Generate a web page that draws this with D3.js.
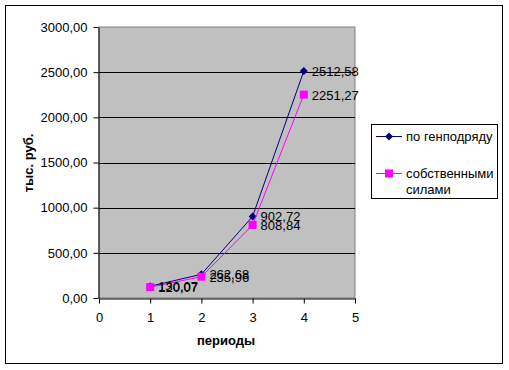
<!DOCTYPE html>
<html>
<head>
<meta charset="utf-8">
<script src="https://cdn.jsdelivr.net/npm/d3@7"></script>
<style>
  body { margin: 0; background: #fff; }
  svg text { font-family: "Liberation Sans", Arial, sans-serif; }
</style>
</head>
<body>
<div id="chart"></div>
<script>
// данные
const periods = [1, 2, 3, 4];
const genpodryad = [130.07, 262.68, 902.72, 2512.58];
const sobstv = [120.07, 235.96, 808.84, 2251.27];
const seriesNames = ["по генподряду", "собственными силами"];
const yTicks = [0, 500, 1000, 1500, 2000, 2500, 3000];
const xTicks = [0, 1, 2, 3, 4, 5];

const W = 509, H = 370;
const plot = {left: 99, right: 355, top: 27, bottom: 298};
const FS = 13;

const svg = d3.select("#chart").append("svg")
  .attr("width", W).attr("height", H);

// рамка
svg.append("rect")
  .attr("x", 5.5).attr("y", 5.5).attr("width", 497).attr("height", 358)
  .attr("fill", "#fff").attr("stroke", "#000").attr("stroke-width", 1);

const x = d3.scaleLinear().domain([0, 5]).range([plot.left, plot.right]);
const y = d3.scaleLinear().domain([0, 3000]).range([plot.bottom, plot.top]);

const fmt = v => d3.format(".2f")(v).replace(".", ",");

// фон
svg.append("rect")
  .attr("x", plot.left).attr("y", plot.top)
  .attr("width", plot.right - plot.left).attr("height", plot.bottom - plot.top)
  .attr("fill", "#c0c0c0").attr("stroke", "#808080");

// сетка
svg.append("g").selectAll("line")
  .data(yTicks.filter(d => d > 0 && d < 3000))
  .enter().append("line")
  .attr("x1", plot.left).attr("x2", plot.right)
  .attr("y1", d => Math.round(y(d)) + 0.5).attr("y2", d => Math.round(y(d)) + 0.5)
  .attr("stroke", "#000");

// оси
const yAxis = svg.append("g")
  .attr("transform", `translate(${plot.left - 0.5},0)`)
  .call(d3.axisLeft(y).tickValues(yTicks).tickFormat(fmt).tickSize(5).tickSizeOuter(0));
const xAxis = svg.append("g")
  .attr("transform", `translate(0,${plot.bottom + 0.5})`)
  .call(d3.axisBottom(x).tickValues(xTicks).tickFormat(d3.format("d")).tickSize(5).tickSizeOuter(0));

[yAxis, xAxis].forEach(a => {
  a.selectAll("path, line").attr("stroke", "#000");
  a.selectAll("text").attr("font-size", FS).attr("fill", "#000")
    .style("font-family", '"Liberation Sans", Arial, sans-serif');
});
yAxis.selectAll("text").attr("x", -11);
xAxis.selectAll("text").attr("dy", "1.2em");

// подписи осей
svg.append("text")
  .attr("x", (plot.left + plot.right) / 2 - 1).attr("y", 345)
  .attr("text-anchor", "middle").attr("font-size", FS).attr("font-weight", "bold")
  .text("периоды");
svg.append("text")
  .attr("transform", `translate(33,163) rotate(-90)`)
  .attr("text-anchor", "middle").attr("font-size", FS).attr("font-weight", "bold")
  .text("тыс. руб.");

const line = d3.line().x(d => x(d[0])).y(d => y(d[1]));
const series = [
  {values: genpodryad, color: "#000080", marker: "diamond"},
  {values: sobstv, color: "#ff00ff", marker: "square"}
];

function marker(g, type, color) {
  if (type === "diamond") {
    g.append("path").attr("d", "M0,-4L4,0L0,4L-4,0Z").attr("fill", color);
  } else {
    g.append("rect").attr("x", -4).attr("y", -4).attr("width", 8).attr("height", 8).attr("fill", color);
  }
}

series.forEach(s => {
  const pts = periods.map((p, i) => [p, s.values[i]]);
  svg.append("path").datum(pts)
    .attr("d", line).attr("fill", "none").attr("stroke", s.color).attr("stroke-width", 1);
  pts.forEach(d => {
    const g = svg.append("g").attr("transform", `translate(${x(d[0])},${y(d[1])})`);
    marker(g, s.marker, s.color);
  });
});

// подписи данных
series.forEach(s => {
  periods.forEach((p, i) => {
    svg.append("text")
      .attr("x", x(p) + 8).attr("y", y(s.values[i]) + 5)
      .attr("font-size", FS).attr("fill", "#000")
      .text(fmt(s.values[i]));
  });
});

// легенда
const lg = svg.append("g");
lg.append("rect")
  .attr("x", 371.5).attr("y", 124.5).attr("width", 126).attr("height", 74)
  .attr("fill", "#fff").attr("stroke", "#000");
const legendRows = [
  {y: 136, lines: ["по генподряду"]},
  {y: 173, lines: ["собственными", "силами"]}
];
legendRows.forEach((r, i) => {
  const s = series[i];
  lg.append("line").attr("x1", 376).attr("x2", 402)
    .attr("y1", r.y + 0.5).attr("y2", r.y + 0.5).attr("stroke", s.color);
  marker(lg.append("g").attr("transform", `translate(389,${r.y + 0.5})`), s.marker, s.color);
  r.lines.forEach((t, j) => {
    lg.append("text").attr("x", 406).attr("y", r.y + 5 + j * 16)
      .attr("font-size", FS).attr("fill", "#000").text(t);
  });
});
</script>
</body>
</html>
